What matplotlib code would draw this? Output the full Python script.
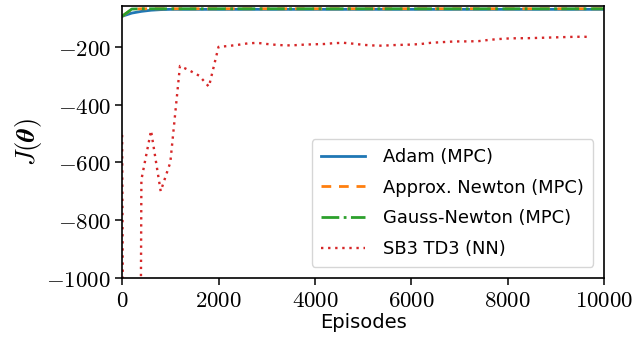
import numpy as np
import matplotlib
matplotlib.use("Agg")
import matplotlib.pyplot as plt
from matplotlib.ticker import FuncFormatter

plt.rcParams['mathtext.fontset'] = 'cm'
plt.rcParams['font.family'] = ['DejaVu Sans']

# MPC methods: episodes and returns
mpc_episodes = [0, 200, 400, 600, 800, 1000, 2000, 3000, 4000, 5000, 6000, 7000, 8000, 9000, 10000]
adam_vals = [-94, -83, -77, -73, -71, -70, -70, -70, -70, -70, -70, -70, -70, -70, -70]
approx_newton_vals = [-94, -70, -68, -68, -68, -68, -68, -68, -68, -68, -68, -68, -68, -68, -68]
gauss_newton_vals = [-94, -69, -68, -68, -68, -68, -68, -68, -68, -68, -68, -68, -68, -68, -68]

# SB3 TD3 (NN)
td3_episodes = [0, 200, 400, 600, 800, 1000, 1200, 1400, 1600, 1800, 2000, 2200, 2400, 2600,
                2800, 3000, 3200, 3400, 3600, 3800, 4000, 4200, 4400, 4600, 4800, 5000,
                5200, 5400, 5600, 5800, 6000, 6200, 6400, 6600, 6800, 7000, 7200, 7400,
                7600, 7800, 8000, 8200, 8400, 8600, 8800, 9000, 9200, 9400, 9600, 9700]
td3_vals = [-505, -8000, -660, -490, -700, -600, -266, -282, -300, -338, -200, -197, -193, -188,
            -186, -190, -193, -195, -194, -192, -191, -190, -187, -186, -189, -193,
            -195, -196, -194, -193, -192, -190, -186, -184, -182, -181, -181, -180,
            -176, -173, -171, -170, -170, -169, -168, -167, -166, -165, -165, -166]

fig = plt.figure(figsize=(6.36, 3.46), dpi=100)
ax = fig.add_axes([0.192, 0.197, 0.758, 0.786])

ax.plot(mpc_episodes, adam_vals, color='#1f77b4', lw=2.0, label='Adam (MPC)')
ax.plot(mpc_episodes, approx_newton_vals, color='#ff7f0e', lw=2.0, linestyle=(0, (3.5, 2.8)),
        label='Approx. Newton (MPC)')
ax.plot(mpc_episodes, gauss_newton_vals, color='#2ca02c', lw=2.0, linestyle='-.',
        label='Gauss-Newton (MPC)')
ax.plot(td3_episodes, td3_vals, color='#d62728', lw=1.7, linestyle=(0, (1, 2.0)),
        label='SB3 TD3 (NN)')

ax.set_xlim(0, 10000)
ax.set_ylim(-1000, -58)
ax.set_xticks([0, 2000, 4000, 6000, 8000, 10000])
ax.set_yticks([-1000, -800, -600, -400, -200])
fmt = FuncFormatter(lambda v, p: r'$%d$' % v)
ax.xaxis.set_major_formatter(fmt)
ax.yaxis.set_major_formatter(fmt)
ax.tick_params(labelsize=16.5, length=5, width=1.1, pad=3)
for s in ax.spines.values():
    s.set_linewidth(1.2)

ax.set_xlabel('Episodes', fontsize=14, labelpad=1)
ax.set_ylabel(r'$J(\boldsymbol{\theta})$', fontsize=19, labelpad=2)

ax.legend(loc='lower right', fontsize=12.9, handlelength=2.5, handletextpad=1.0,
          labelspacing=0.7, borderpad=0.5, borderaxespad=0.62)

fig.savefig('out.png', dpi=100)
